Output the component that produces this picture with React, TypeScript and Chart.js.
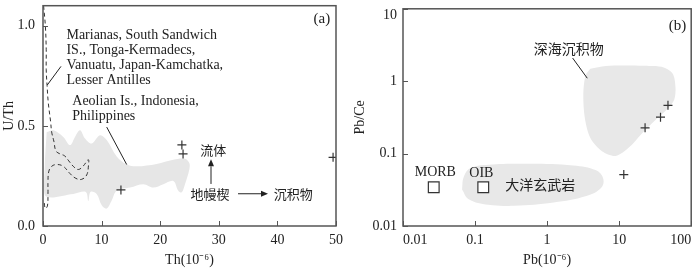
import { useEffect, useRef } from 'react';
import { Chart, registerables } from 'chart.js';

Chart.register(...registerables);

// ---------- Panel (a): U/Th vs Th ----------
const thTicks = [0, 10, 20, 30, 40, 50];
const uthTicks = [0, 0.5, 1.0];
const sampleTh = [13.3, 23.7, 23.9, 49.5];
const sampleUTh = [0.18, 0.405, 0.36, 0.343];
// grey field (Aeolian Is., Indonesia, Philippines)
const arcFieldTh = [0.63, 1.76, 3.46, 4.61, 5.46, 6.31, 7.17, 8.31, 9.73, 10.87, 12.58, 14.28, 15.99, 19.4, 22.24, 24.23, 24.97, 24.97, 24.23, 23.67, 23.09, 22.24, 20.53, 18.82, 17.12, 14.85, 12.58, 11.72, 10.87, 10.02, 9.16, 8.1, 7.73, 7.3, 5.17, 0.34, 0.3, 0.63];
const arcFieldUTh = [0.469, 0.478, 0.445, 0.404, 0.445, 0.478, 0.437, 0.412, 0.453, 0.429, 0.347, 0.307, 0.298, 0.31, 0.331, 0.336, 0.314, 0.282, 0.209, 0.168, 0.176, 0.225, 0.209, 0.192, 0.209, 0.192, 0.176, 0.127, 0.087, 0.103, 0.16, 0.17, 0.125, 0.17, 0.16, 0.152, 0.3, 0.469];
// dashed field (Marianas, South Sandwich ...)
const dashFieldTh = [0.1, 0.4, 0.55, 0.55, 0.7, 0.9, 1.31, 1.48, 1.88, 2.2, 2.9, 3.7, 4.4, 5.17, 6.02, 6.88, 7.73, 7.75, 7.46, 6.6, 5.6, 4.6, 3.46, 2.34, 1.48, 1.0, 0.85, 0.85, 0.75, 0.4, 0.15];
const dashFieldUTh = [1.1, 1.0, 0.88, 0.78, 0.7, 0.616, 0.518, 0.469, 0.42, 0.375, 0.36, 0.35, 0.325, 0.298, 0.282, 0.3, 0.331, 0.3, 0.255, 0.233, 0.238, 0.262, 0.298, 0.307, 0.298, 0.274, 0.225, 0.16, 0.1, 0.088, 0.13];

// ---------- Panel (b): Pb/Ce vs Pb ----------
const pbTicks = [0.01, 0.1, 1, 10, 100];
const pbceTicks = [0.01, 0.1, 1, 10];
const samplePb = [47.6, 37.5, 22.9, 11.6];
const samplePbCe = [0.464, 0.318, 0.227, 0.0514];
const refNames = ['MORB', 'OIB'];
const refPb = [0.0267, 0.13];
const refPbCe = [0.0344, 0.0344];
// 深海沉积物 field
const sedPb = [3.98, 6.55, 11.1, 22.9, 38.7, 55.1, 60.5, 58.3, 47.5, 31.4, 20.7, 13.5, 8.96, 5.78, 4.0, 3.35, 3.18, 3.41, 3.98];
const sedPbCe = [1.49, 1.62, 1.65, 1.63, 1.58, 1.28, 0.83, 0.558, 0.42, 0.287, 0.19, 0.12, 0.093, 0.108, 0.163, 0.302, 0.65, 1.2, 1.49];
// 大洋玄武岩 field
const basPb = [0.066, 0.0698, 0.0868, 0.153, 0.587, 2.31, 4.79, 6.02, 5.6, 3.5, 1.23, 0.352, 0.153, 0.0816, 0.066];
const basPbCe = [0.0318, 0.0479, 0.0631, 0.0703, 0.0724, 0.0686, 0.0588, 0.045, 0.0334, 0.0259, 0.0211, 0.0191, 0.0196, 0.0234, 0.0318];

type Pt = [number, number];
interface Txt { t: string; x: number; y: number; align?: CanvasTextAlign; cjk?: boolean; size?: number; dy?: number; dx?: number }
interface Annot { texts: Txt[]; lines: [Pt, Pt][]; arrows: [Pt, Pt][] }

const SERIF = '"Liberation Serif", "Times New Roman", serif';
const CJK = '"Noto Sans CJK SC", sans-serif';
const INK = '#222';
const AXIS = '#555';

const annotA: Annot = {
  texts: [
    { t: 'Marianas, South Sandwich', x: 4.0, y: 0.954, align: 'left' },
    { t: 'IS., Tonga-Kermadecs,', x: 4.0, y: 0.877, align: 'left' },
    { t: 'Vanuatu, Japan-Kamchatka,', x: 4.0, y: 0.801, align: 'left' },
    { t: 'Lesser Antilles', x: 4.0, y: 0.725, align: 'left' },
    { t: 'Aeolian Is., Indonesia,', x: 5.0, y: 0.621, align: 'left' },
    { t: 'Philippines', x: 5.0, y: 0.548, align: 'left' },
    { t: '(a)', x: 47.6, y: 1.032, size: 15 },
    { t: '流体', x: 29.06, y: 0.38, cjk: true, size: 13 },
    { t: '地幔楔', x: 28.5, y: 0.16, cjk: true, size: 13 },
    { t: '沉积物', x: 42.7, y: 0.16, cjk: true, size: 13 },
  ],
  lines: [
    [[3.07, 0.797], [0.73, 0.704]],
    [[10.87, 0.494], [14.28, 0.307]],
  ],
  arrows: [
    [[28.67, 0.21], [28.67, 0.333]],
    [[33.28, 0.161], [38.4, 0.161]],
  ],
};

const annotB: Annot = {
  texts: [
    { t: 'MORB', x: 0.0281, y: 0.0558 },
    { t: 'OIB', x: 0.1225, y: 0.0533 },
    { t: '大洋玄武岩', x: 0.803, y: 0.0374, cjk: true, size: 14 },
    { t: '深海沉积物', x: 1.99, y: 2.84, cjk: true, size: 14 },
    { t: '(b)', x: 64.6, y: 5.75, size: 15 },
    // top tick label of the y axis, nudged inside the canvas like the reference
    { t: String(pbceTicks[pbceTicks.length - 1]), x: 0.01, y: pbceTicks[pbceTicks.length - 1], align: 'right', dx: -6, dy: 7 },
  ],
  lines: [[[2.26, 2.09], [3.61, 1.1]]],
  arrows: [],
};

function makeDecor(a: Annot) {
  return {
    id: 'decor',
    afterDatasetsDraw(chart: any) {
      const { ctx, chartArea: ca, scales } = chart;
      const xs = scales.x;
      const ys = scales.y;
      const X = (v: number) => xs.getPixelForValue(v);
      const Y = (v: number) => ys.getPixelForValue(v);
      const seg = (x1: number, y1: number, x2: number, y2: number) => {
        ctx.beginPath();
        ctx.moveTo(x1, y1);
        ctx.lineTo(x2, y2);
        ctx.stroke();
      };
      ctx.save();
      // inward tick marks
      ctx.strokeStyle = AXIS;
      ctx.lineWidth = 1;
      for (const t of xs.ticks) {
        const px = Math.round(X(t.value)) + 0.5;
        seg(px, ca.bottom, px, ca.bottom - 5);
      }
      for (const t of ys.ticks) {
        const py = Math.round(Y(t.value)) + 0.5;
        seg(ca.left, py, ca.left + 5, py);
      }
      // frame
      ctx.lineWidth = 1.5;
      ctx.strokeRect(ca.left, ca.top, ca.right - ca.left, ca.bottom - ca.top);
      // leader lines
      ctx.strokeStyle = INK;
      ctx.fillStyle = INK;
      ctx.lineWidth = 1;
      for (const [p, q] of a.lines) seg(X(p[0]), Y(p[1]), X(q[0]), Y(q[1]));
      // arrows
      for (const [p, q] of a.arrows) {
        const x1 = X(p[0]), y1 = Y(p[1]), x2 = X(q[0]), y2 = Y(q[1]);
        const ang = Math.atan2(y2 - y1, x2 - x1);
        const L = 7, W = 3;
        const bx = x2 - L * Math.cos(ang), by = y2 - L * Math.sin(ang);
        seg(x1, y1, bx, by);
        ctx.beginPath();
        ctx.moveTo(x2, y2);
        ctx.lineTo(bx + W * Math.sin(ang), by - W * Math.cos(ang));
        ctx.lineTo(bx - W * Math.sin(ang), by + W * Math.cos(ang));
        ctx.closePath();
        ctx.fill();
      }
      // texts
      ctx.textBaseline = 'middle';
      for (const t of a.texts) {
        const size = t.size ?? 14;
        ctx.font = `${size}px ${t.cjk ? CJK : SERIF}`;
        ctx.textAlign = t.align ?? 'center';
        ctx.fillText(t.t, X(t.x) + (t.dx ?? 0), Y(t.y) + (t.dy ?? 0));
      }
      ctx.restore();
    },
  };
}

const pts = (xs: number[], ys: number[]) => xs.map((x, i) => ({ x, y: ys[i] }));

function fixFit(w?: number, h?: number) {
  return (s: any) => {
    if (w !== undefined) s.width = w;
    if (h !== undefined) s.height = h;
    s.paddingLeft = 0;
    s.paddingRight = 0;
    s.paddingTop = 0;
    s.paddingBottom = 0;
  };
}

const tickFont = { family: SERIF, size: 14 };
const titleFont = { family: SERIF, size: 14 };

function configA(): any {
  return {
    type: 'line',
    data: {
      datasets: [
        {
          label: 'samples',
          data: pts(sampleTh, sampleUTh),
          showLine: false,
          pointStyle: 'cross',
          pointRadius: 4.5,
          pointBorderColor: '#333',
          pointBorderWidth: 1.2,
          borderColor: '#333',
        },
        {
          label: 'Marianas field',
          data: pts(dashFieldTh, dashFieldUTh),
          borderColor: '#333',
          borderWidth: 1,
          borderDash: [4, 3],
          pointRadius: 0,
          tension: 0.4,
          fill: false,
        },
        {
          label: 'Aeolian field',
          data: pts(arcFieldTh, arcFieldUTh),
          borderColor: 'rgba(0,0,0,0)',
          borderWidth: 0,
          backgroundColor: '#e6e6e6',
          pointRadius: 0,
          tension: 0.35,
          fill: 'shape',
        },
      ],
    },
    options: {
      animation: false,
      responsive: false,
      devicePixelRatio: 1,
      layout: { padding: { left: 0, right: 14, top: 1, bottom: 0 } },
      plugins: { legend: { display: false }, tooltip: { enabled: false } },
      scales: {
        x: {
          type: 'linear',
          position: 'bottom',
          min: 0,
          max: 50,
          afterBuildTicks: (s: any) => { s.ticks = thTicks.map((v) => ({ value: v })); },
          afterFit: fixFit(undefined, 43),
          grid: { display: false, drawTicks: false },
          border: { display: false },
          ticks: { font: tickFont, color: INK, padding: 6, autoSkip: false, maxRotation: 0, callback: (v: number) => String(v) },
          title: { display: true, text: 'Th(10⁻⁶)', font: titleFont, color: INK, padding: { top: 0, bottom: 0 } },
        },
        y: {
          type: 'linear',
          min: 0,
          max: 1.1,
          afterBuildTicks: (s: any) => { s.ticks = uthTicks.map((v) => ({ value: v })); },
          afterFit: fixFit(43, undefined),
          grid: { display: false, drawTicks: false },
          border: { display: false },
          ticks: { font: tickFont, color: INK, padding: 8, autoSkip: false, callback: (v: number) => v.toFixed(1) },
          title: { display: true, text: 'U/Th', font: titleFont, color: INK, padding: { top: 1, bottom: 0 } },
        },
      },
    },
    plugins: [makeDecor(annotA)],
  };
}

function configB(): any {
  const topTick = pbceTicks[pbceTicks.length - 1];
  return {
    type: 'line',
    data: {
      datasets: [
        {
          label: 'samples',
          data: pts(samplePb, samplePbCe),
          showLine: false,
          pointStyle: 'cross',
          pointRadius: 4.5,
          pointBorderColor: '#333',
          pointBorderWidth: 1.2,
          borderColor: '#333',
        },
        {
          label: refNames.join('/'),
          data: pts(refPb, refPbCe),
          showLine: false,
          pointStyle: 'rect',
          pointRadius: 7.6,
          pointBackgroundColor: '#fff',
          pointBorderColor: '#333',
          pointBorderWidth: 1.2,
        },
        {
          label: '深海沉积物',
          data: pts(sedPb, sedPbCe),
          borderColor: 'rgba(0,0,0,0)',
          borderWidth: 0,
          backgroundColor: '#e8e8e8',
          pointRadius: 0,
          tension: 0.3,
          fill: 'shape',
        },
        {
          label: '大洋玄武岩',
          data: pts(basPb, basPbCe),
          borderColor: 'rgba(0,0,0,0)',
          borderWidth: 0,
          backgroundColor: '#e8e8e8',
          pointRadius: 0,
          tension: 0.4,
          fill: 'shape',
        },
      ],
    },
    options: {
      animation: false,
      responsive: false,
      devicePixelRatio: 1,
      layout: { padding: { left: 0, right: 3, top: 1, bottom: 0 } },
      plugins: { legend: { display: false }, tooltip: { enabled: false } },
      scales: {
        x: {
          type: 'logarithmic',
          position: 'bottom',
          min: 0.01,
          max: 100,
          afterBuildTicks: (s: any) => { s.ticks = pbTicks.map((v) => ({ value: v })); },
          afterFit: fixFit(undefined, 43),
          grid: { display: false, drawTicks: false },
          border: { display: false },
          ticks: { font: tickFont, color: INK, padding: 6, autoSkip: false, maxRotation: 0, align: 'inner', callback: (v: number) => String(v) },
          title: { display: true, text: 'Pb(10⁻⁶)', font: titleFont, color: INK, padding: { top: 0, bottom: 0 } },
        },
        y: {
          type: 'logarithmic',
          min: 0.01,
          max: 10,
          afterBuildTicks: (s: any) => { s.ticks = pbceTicks.map((v) => ({ value: v })); },
          afterFit: fixFit(53, undefined),
          grid: { display: false, drawTicks: false },
          border: { display: false },
          ticks: {
            font: tickFont,
            color: INK,
            padding: 6,
            autoSkip: false,
            callback: (v: number) => (v === topTick ? '' : String(v)),
          },
          title: { display: true, text: 'Pb/Ce', font: titleFont, color: INK, padding: { top: 2, bottom: 0 } },
        },
      },
    },
    plugins: [makeDecor(annotB)],
  };
}

export default function App() {
  const refA = useRef<HTMLCanvasElement | null>(null);
  const refB = useRef<HTMLCanvasElement | null>(null);

  useEffect(() => {
    document.body.style.margin = '0';
    const a = new Chart(refA.current as HTMLCanvasElement, configA());
    const b = new Chart(refB.current as HTMLCanvasElement, configB());
    return () => {
      a.destroy();
      b.destroy();
    };
  }, []);

  return (
    <div style={{ position: 'fixed', left: 0, top: 0, width: 700, height: 269, background: '#fff', overflow: 'hidden' }}>
      <canvas ref={refA} width={350} height={269} style={{ position: 'absolute', left: 0, top: 0, width: 350, height: 269 }} />
      <canvas ref={refB} width={350} height={269} style={{ position: 'absolute', left: 350, top: 0, width: 350, height: 269 }} />
    </div>
  );
}
